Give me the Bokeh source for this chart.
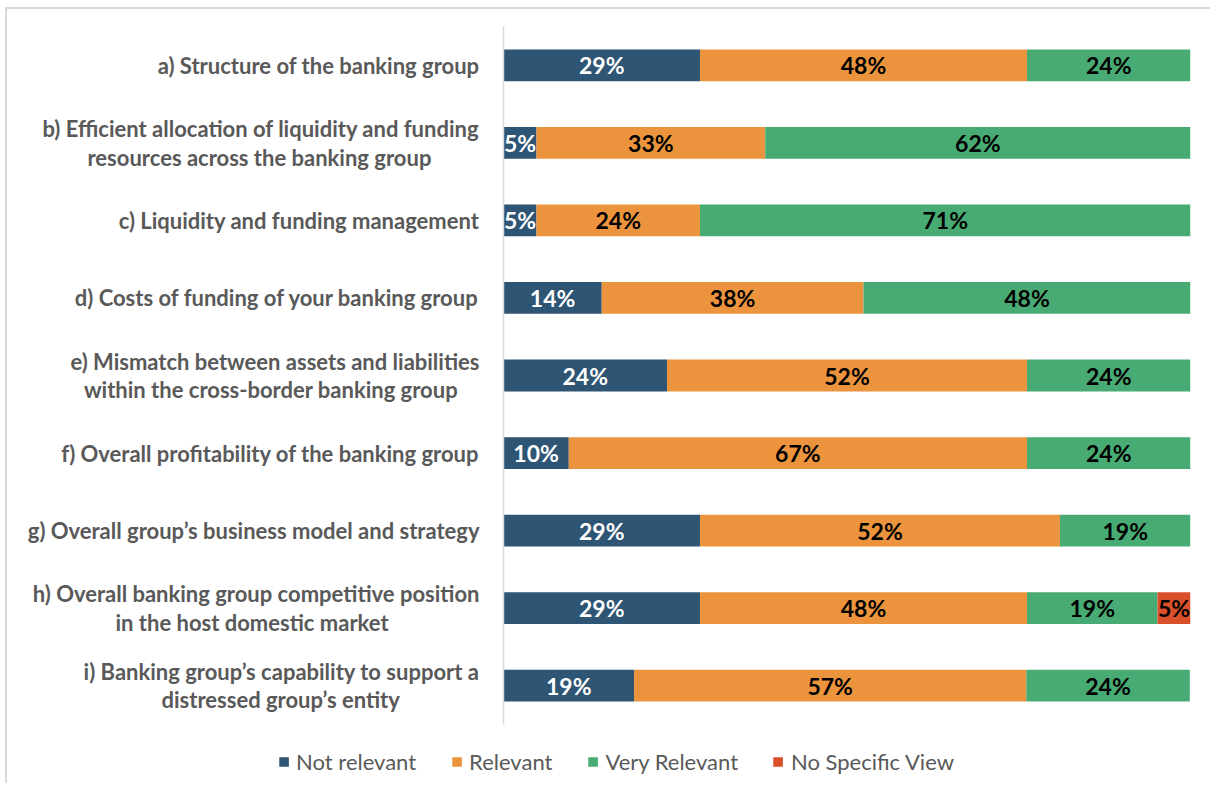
from bokeh.plotting import figure
from bokeh.layouts import column, row
from bokeh.models import ColumnDataSource, FactorRange, Range1d, Legend, LegendItem, LabelSet
from bokeh.core.properties import value
from bokeh.embed import file_html
from bokeh.resources import INLINE

categories = [
    "a) Structure of the banking group",
    "b) Efficient allocation of liquidity and funding\nresources across the banking group",
    "c) Liquidity and funding management",
    "d) Costs of funding of your banking group",
    "e) Mismatch between assets and liabilities\nwithin the cross-border banking group",
    "f) Overall profitability of the banking group",
    "g) Overall group\u2019s business model and strategy",
    "h) Overall banking group competitive position\nin the host domestic market",
    "i) Banking group\u2019s capability to support a\ndistressed group\u2019s entity",
]
series_names = ["Not relevant", "Relevant", "Very Relevant", "No Specific View"]
not_relevant = [28.6, 4.8, 4.8, 14.3, 23.8, 9.5, 28.6, 28.6, 19.0]
relevant = [47.6, 33.3, 23.8, 38.1, 52.4, 66.7, 52.4, 47.6, 57.1]
very_relevant = [23.8, 61.9, 71.4, 47.6, 23.8, 23.8, 19.0, 19.0, 23.8]
no_view = [0, 0, 0, 0, 0, 0, 0, 4.8, 0]

colors = ["#2E5574", "#EB943D", "#48AB73", "#D84F2A"]
label_colors = ["white", "black", "black", "black"]
FONT = "Lato"

# styling: pad the second line of wrapped labels so it sits centred under the first
second_line_pad = [0, 9, 0, 0, 4, 0, 0, 17, 15]
display = []
for c, n in zip(categories, second_line_pad):
    lines = c.split("\n")
    if len(lines) == 2:
        c = lines[0] + "\n" + lines[1] + "\u00a0" * n
    display.append(c)

p = figure(
    width=1203, height=730,
    y_range=FactorRange(factors=list(reversed(display))),
    x_range=Range1d(0, 100),
    output_backend="svg", toolbar_location=None,
    min_border_left=496, min_border_right=20, min_border_top=17, min_border_bottom=15,
)
p.outline_line_color = None
p.xgrid.visible = False
p.ygrid.visible = False
p.xaxis.visible = False
p.yaxis.axis_line_color = "#D9D9D9"
p.yaxis.axis_line_width = 1.5
p.yaxis.major_tick_line_color = None
p.yaxis.minor_tick_line_color = None
p.yaxis.major_label_text_font = FONT
p.yaxis.major_label_text_font_style = "bold"
p.yaxis.major_label_text_font_size = "22px"
p.yaxis.major_label_text_color = "#595959"
p.yaxis.major_label_text_line_height = 1.05
p.yaxis.major_label_standoff = 18
p.y_range.range_padding = 0

series = [not_relevant, relevant, very_relevant, no_view]
left = [0.0] * len(categories)
for name, vals, col, lcol in zip(series_names, series, colors, label_colors):
    right = [l + v for l, v in zip(left, vals)]
    src = ColumnDataSource(dict(
        cat=display, left=left, right=right,
        mid=[(l + r) / 2 for l, r in zip(left, right)],
        txt=["{:.0f}%".format(v) if v > 0 else "" for v in vals],
    ))
    p.hbar(y="cat", left="left", right="right", height=0.41, source=src,
           fill_color=col, line_color=None)
    p.add_layout(LabelSet(x="mid", y="cat", text="txt", source=src,
                          text_align="center", text_baseline="middle",
                          text_font=value(FONT), text_font_style="bold",
                          text_font_size="23px", text_color=lcol))
    left = right

# legend strip below the chart, centred on the whole chart area
lg = figure(width=1203, height=44, x_range=Range1d(0, 1), y_range=Range1d(0, 1),
            x_axis_type=None, y_axis_type=None,
            output_backend="svg", toolbar_location=None,
            min_border_left=14, min_border_right=0, min_border_top=0, min_border_bottom=0)
lg.outline_line_color = None
lg.grid.visible = False
items = []
for name, col in zip(series_names, colors):
    # swatch renderer lies entirely outside the visible range; only its legend entry shows
    r = lg.hbar(y=[5], left=[5], right=[6], height=0.4, fill_color=col, line_color=None)
    items.append(LegendItem(label=name, renderers=[r]))
legend = Legend(items=items, orientation="horizontal", location="center")
legend.label_text_font = FONT
legend.label_text_font_size = "22px"
legend.label_text_color = "#595959"
legend.glyph_width = 12
legend.glyph_height = 12
legend.label_standoff = 7
legend.spacing = 34
legend.padding = 4
legend.margin = 0
legend.border_line_color = None
legend.background_fill_alpha = 0
lg.add_layout(legend, "center")

layout = column(p, row(lg), spacing=0)
layout.styles = {"margin-left": "5px", "margin-top": "7px",
                 "border-top": "2px solid #D9D9D9", "border-left": "2px solid #D9D9D9"}

open("out.html", "w").write(file_html(layout, INLINE))
